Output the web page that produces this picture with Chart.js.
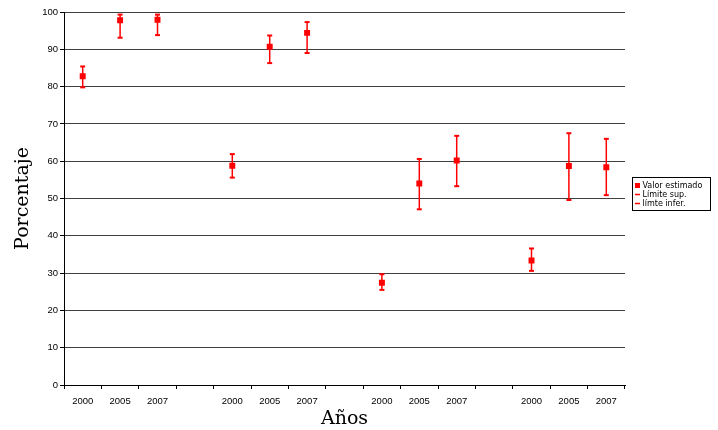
<!DOCTYPE html>
<html>
<head>
<meta charset="utf-8">
<script src="https://cdn.jsdelivr.net/npm/chart.js@4/dist/chart.umd.min.js"></script>
<style>
  html, body { margin: 0; padding: 0; background: #fff; }
  #wrap { width: 718px; height: 430px; position: relative; }
</style>
</head>
<body>
<div id="wrap"><canvas id="c" width="718" height="430"></canvas></div>
<script>
// Category labels (blank entries are the gaps between groups)
const years = ['2000', '2005', '2007', '', '2000', '2005', '2007', '', '2000', '2005', '2007', '', '2000', '2005', '2007'];
// Estimated value
const valorEstimado = [82.8, 97.8, 97.9, null, 58.8, 90.7, 94.4, null, 27.4, 54.0, 60.2, null, 33.4, 58.7, 58.4];
// Upper limit
const limiteSup = [85.4, 99.3, 99.3, null, 61.9, 93.7, 97.3, null, 29.7, 60.6, 66.8, null, 36.6, 67.5, 66.0];
// Lower limit
const limiteInf = [79.8, 93.1, 93.8, null, 55.6, 86.3, 89.0, null, 25.5, 47.1, 53.3, null, 30.6, 49.6, 50.9];
// Y axis ticks
const yMin = 0, yMax = 100, yStep = 10;

const RED = '#ff0000';

// High-low lines joining upper and lower limits
const hiLoPlugin = {
  id: 'hiLo',
  beforeDatasetsDraw(chart) {
    const ctx = chart.ctx;
    const mSup = chart.getDatasetMeta(1), mInf = chart.getDatasetMeta(2);
    ctx.save();
    ctx.strokeStyle = RED;
    ctx.lineWidth = 1.5;
    for (let i = 0; i < years.length; i++) {
      if (limiteSup[i] == null || limiteInf[i] == null) continue;
      const a = mSup.data[i], b = mInf.data[i];
      ctx.beginPath();
      ctx.moveTo(a.x, a.y);
      ctx.lineTo(b.x, b.y);
      ctx.stroke();
    }
    ctx.restore();
  }
};

// Boxed legend on the right
const boxLegend = {
  id: 'boxLegend',
  afterDraw(chart) {
    const ctx = chart.ctx;
    const bx = 632.5, by = 177.5, bw = 78, bh = 33;
    ctx.save();
    ctx.fillStyle = '#fff';
    ctx.fillRect(bx, by, bw, bh);
    ctx.strokeStyle = '#000';
    ctx.lineWidth = 1;
    ctx.strokeRect(bx, by, bw, bh);
    ctx.font = '8px "DejaVu Sans"';
    ctx.textBaseline = 'middle';
    ctx.fillStyle = '#000';
    chart.data.datasets.forEach((ds, k) => {
      const y = by + 8 + k * 9;
      ctx.fillStyle = RED;
      ctx.strokeStyle = RED;
      if (ds.pointStyle === 'rect') {
        ctx.fillRect(635, y - 2.5, 5, 5);
      } else {
        ctx.lineWidth = 1.5;
        ctx.beginPath();
        ctx.moveTo(635, y);
        ctx.lineTo(640, y);
        ctx.stroke();
      }
      ctx.fillStyle = '#000';
      ctx.fillText(ds.label, 642.5, y + 0.5);
    });
    ctx.restore();
  }
};

new Chart(document.getElementById('c'), {
  type: 'line',
  data: {
    labels: years,
    datasets: [
      { label: 'Valor estimado', data: valorEstimado, showLine: false, pointStyle: 'rect',
        pointRadius: 4.2, pointBackgroundColor: RED, pointBorderColor: RED, pointBorderWidth: 0 },
      { label: 'Límite sup.', data: limiteSup, showLine: false, pointStyle: 'line',
        pointRadius: 2.5, pointBorderColor: RED, pointBackgroundColor: RED, pointBorderWidth: 2 },
      { label: 'límte infer.', data: limiteInf, showLine: false, pointStyle: 'line',
        pointRadius: 2.5, pointBorderColor: RED, pointBackgroundColor: RED, pointBorderWidth: 2 }
    ]
  },
  options: {
    responsive: false,
    animation: false,
    events: [],
    layout: { padding: { left: 0, right: 93, top: 12, bottom: 0 } },
    plugins: {
      legend: { display: false },
      tooltip: { enabled: false }
    },
    scales: {
      x: {
        type: 'category',
        offset: true,
        afterFit(s) { s.height = 45; },
        border: { color: '#000', width: 1 },
        grid: { offset: true, drawOnChartArea: false, drawTicks: true, tickLength: 4, color: '#000' },
        ticks: { autoSkip: false, maxRotation: 0, color: '#000', padding: 7,
                 font: { family: '"Liberation Sans"', size: 9.5 } },
        title: { display: true, text: 'Años', color: '#000', padding: { top: 0, bottom: 0 },
                 font: { family: '"DejaVu Serif"', size: 19 } }
      },
      y: {
        min: yMin, max: yMax,
        afterFit(s) { s.width = 64; },
        border: { color: '#000', width: 1 },
        grid: { color: '#404040', lineWidth: 1, tickLength: 4, drawTicks: true, tickColor: '#000' },
        ticks: { stepSize: yStep, color: '#000', padding: 2,
                 font: { family: '"Liberation Sans"', size: 9.5 } },
        title: { display: true, text: 'Porcentaje', color: '#000', padding: { top: 12, bottom: 0 },
                 font: { family: '"DejaVu Serif"', size: 19 } }
      }
    }
  },
  plugins: [hiLoPlugin, boxLegend]
});
</script>
</body>
</html>
